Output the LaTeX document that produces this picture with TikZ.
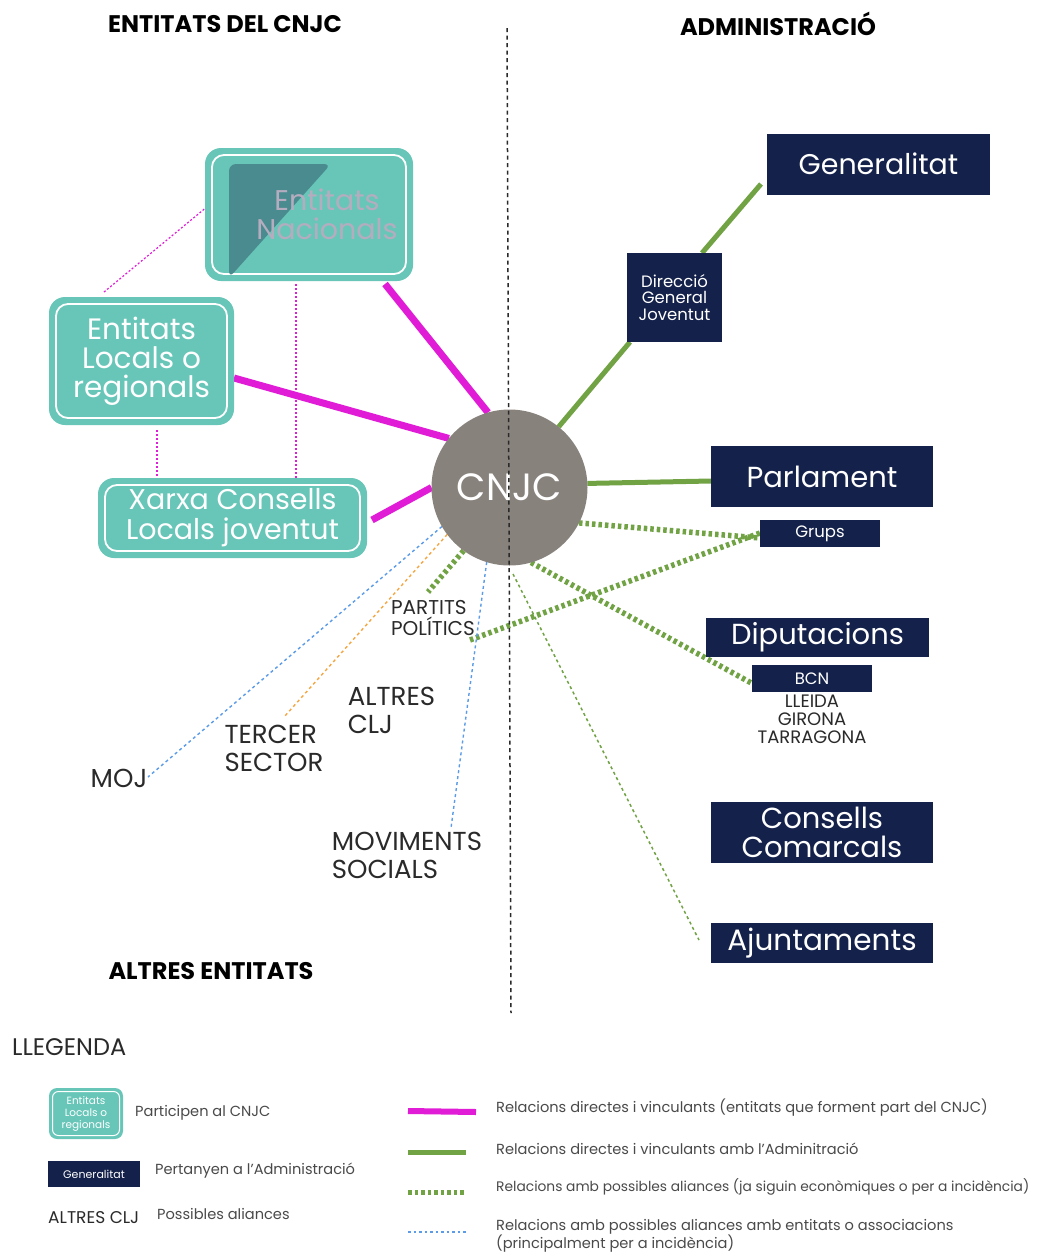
\documentclass[tikz,border=0pt]{standalone}
\usepackage{fontspec}
\setmainfont{Poppins}
\usetikzlibrary{backgrounds}
\definecolor{tealc}{HTML}{68C6B9}
\definecolor{tealdark}{HTML}{4A8B8F}
\definecolor{navy}{HTML}{14214B}
\definecolor{pinkc}{HTML}{E01CD6}
\definecolor{greenc}{HTML}{71A345}
\definecolor{bluec}{HTML}{5B9BE8}
\definecolor{orangec}{HTML}{F4A640}
\definecolor{circc}{HTML}{88827C}
\definecolor{txt}{HTML}{2A2A2A}
\definecolor{nactxt}{HTML}{B5ADBF}
\begin{document}
\begin{tikzpicture}[x=1pt,y=-1pt,
  tealbox/.style={rectangle, rounded corners=16pt, fill=tealc, text=white, inner sep=0pt, align=center,
    path picture={\draw[white,line width=1.8pt,rounded corners=12pt]
      ([shift={(7pt,-7pt)}]path picture bounding box.north west) rectangle
      ([shift={(-7pt,7pt)}]path picture bounding box.south east);}},
  smalltealbox/.style={rectangle, rounded corners=8pt, fill=tealc, text=white, inner sep=0pt, align=center,
    path picture={\draw[white,line width=1pt,rounded corners=6pt]
      ([shift={(3.5pt,-3.5pt)}]path picture bounding box.north west) rectangle
      ([shift={(-3.5pt,3.5pt)}]path picture bounding box.south east);}},
  navybox/.style={rectangle, fill=navy, text=white, inner sep=0pt, align=center},
  lbl/.style={text=txt, inner sep=0pt, align=left},
  hdr/.style={text=black, inner sep=0pt, font=\bfseries\fontsize{24}{28}\selectfont},
  pinkline/.style={pinkc, line width=7pt},
  pinkdot/.style={pinkc, line width=1.2pt, dash pattern=on 2pt off 2pt},
  greenline/.style={greenc, line width=5pt},
  greendot/.style={greenc, line width=5.5pt, dash pattern=on 3.5pt off 3pt},
  greenthin/.style={greenc, line width=1.5pt, dash pattern=on 3pt off 3pt},
  bluedot/.style={bluec, line width=1.4pt, dash pattern=on 3pt off 3pt},
  orangedot/.style={orangec, line width=1.4pt, dash pattern=on 3pt off 3pt},
  legtxt/.style={text=txt!85, inner sep=0pt, anchor=west, align=left, font=\fontsize{14.6}{18}\selectfont}
]
\useasboundingbox (0,0) rectangle (1039,1254);

% headers
\node[hdr] (h1) at (225,24) {ENTITATS DEL CNJC};
\node[hdr] (h2) at (778,24) {ADMINISTRACIÓ};
\node[hdr] (h3) at (211,971) {ALTRES ENTITATS};

% teal boxes
\node[tealbox, minimum width=208pt, minimum height=133pt] (nac) at (309,214.5) {};
\fill[tealdark, rounded corners=7pt] (229,164) -- (331,164) -- (229,278) -- cycle;
\node[text=nactxt, inner sep=0pt, align=center, font=\fontsize{28.5}{29}\selectfont] (nactext) at (327,214) {Entitats\\Nacionals};
\node[tealbox, minimum width=185pt, minimum height=128pt, font=\fontsize{29.5}{29}\selectfont] (loc) at (141.5,361) {Entitats\\Locals o\\regionals};
\node[tealbox, minimum width=269pt, minimum height=80pt, font=\fontsize{28.5}{30}\selectfont] (xarxa) at (232.5,518) {Xarxa Consells\\Locals joventut};

% CNJC
\node[circle, fill=circc, minimum size=156pt, inner sep=0pt, outer sep=0pt, text=white, font=\fontsize{38}{42}\selectfont] (cnjc) at (509.5,487.5) {CNJC};

% navy boxes
\node[navybox, minimum width=223pt, minimum height=61pt, font=\fontsize{28.5}{30}\selectfont] (gen) at (878.5,164) {Generalitat};
\node[navybox, minimum width=95pt, minimum height=89pt, font=\fontsize{16.5}{16.5}\selectfont] (dgj) at (674.5,297.5) {Direcció\\General\\Joventut};
\node[navybox, minimum width=222pt, minimum height=61pt, font=\fontsize{29}{30}\selectfont] (parl) at (822,476.5) {Parlament};
\node[navybox, minimum width=120pt, minimum height=27pt, font=\fontsize{16.5}{18}\selectfont] (grups) at (820,533.5) {Grups};
\node[navybox, minimum width=223pt, minimum height=39pt, font=\fontsize{29}{30}\selectfont] (dip) at (817.5,637.5) {Diputacions};
\node[navybox, minimum width=120pt, minimum height=27pt, font=\fontsize{16.5}{18}\selectfont] (bcn) at (812,678.5) {BCN};
\node[lbl, align=center, font=\fontsize{18}{18}\selectfont] (prov) at (812,719) {LLEIDA\\GIRONA\\TARRAGONA};
\node[navybox, minimum width=222pt, minimum height=61pt, font=\fontsize{29}{29.5}\selectfont] (cc) at (822,832.5) {Consells\\Comarcals};
\node[navybox, minimum width=222pt, minimum height=40pt, font=\fontsize{29.5}{30}\selectfont] (ajt) at (822,943) {Ajuntaments};

% other entities
\node[lbl, font=\fontsize{20}{21}\selectfont] (partits) at (433,618) {PARTITS\\POLÍTICS};
\node[lbl, font=\fontsize{26}{28}\selectfont] (altres) at (391.5,710.5) {ALTRES\\CLJ};
\node[lbl, font=\fontsize{26}{28}\selectfont] (tercer) at (274,748) {TERCER\\SECTOR};
\node[lbl, font=\fontsize{26}{28}\selectfont] (moj) at (119,778) {MOJ};
\node[lbl, font=\fontsize{26}{28}\selectfont] (mov) at (407,855) {MOVIMENTS\\SOCIALS};

% connector end coordinates
\coordinate (nacB) at (385,284);
\coordinate (locR) at (234,378);
\coordinate (xarR) at (372,520);
\coordinate (locT) at (104,292);
\coordinate (nacL) at (208,206);
\coordinate (nacB2) at (296,284);
\coordinate (xarT1) at (296,478);
\coordinate (locB) at (157,430);
\coordinate (xarT2) at (157,478);
\coordinate (dgjBL) at (630,342);
\coordinate (dgjT) at (702,253);
\coordinate (genL) at (761,184);
\coordinate (parlL) at (711,481);
\coordinate (grupsL1) at (760,538);
\coordinate (grupsL2) at (760,533);
\coordinate (bcnL) at (755,685);
\coordinate (partT) at (428,592);
\coordinate (partR) at (470,640);
\coordinate (ajtS) at (513,574);
\coordinate (ajtL) at (699,940);
\coordinate (mojR) at (148,777);
\coordinate (terT) at (284,717);
\coordinate (movT) at (451,828);

\begin{scope}[on background layer]
  \fill[white] (0,0) rectangle (1039,1254);
  \draw[pinkline] (nacB) -- (cnjc.106.8);
  \draw[pinkline] (locR) -- (cnjc.141.8);
  \draw[pinkline] (xarR) -- (cnjc.180);
  \draw[pinkdot] (locT) -- (nacL);
  \draw[pinkdot] (nacB2) -- (xarT1);
  \draw[pinkdot] (locB) -- (xarT2);
  \draw[greenline] (cnjc.51.2) -- (dgjBL);
  \draw[greenline] (dgjT) -- (genL);
  \draw[greenline] (cnjc.3) -- (parlL);
  \draw[greendot] (cnjc.-27.3) -- (grupsL1);
  \draw[greendot] (partR) -- (grupsL2);
  \draw[greendot] (cnjc.-74.2) -- (bcnL);
  \draw[greendot] (cnjc.234) -- (partT);
  \draw[greenthin] (ajtS) -- (ajtL);
  \draw[bluedot] (cnjc.210.8) -- (mojR);
  \draw[orangedot] (cnjc.217.5) -- (terT);
  \draw[bluedot] (cnjc.253.3) -- (movT);
\end{scope}

% central divider
\coordinate (divT) at (507,28);
\coordinate (divB) at (511,1013);
\draw[txt, line width=1.5pt, dash pattern=on 4pt off 3.5pt] (divT) -- (divB);

% legend
\node[lbl, anchor=west, font=\fontsize{24}{28}\selectfont] (leg) at (12,1047) {LLEGENDA};
\node[smalltealbox, minimum width=74pt, minimum height=51pt, font=\fontsize{10.5}{12}\selectfont] (legteal) at (86,1113.5) {Entitats\\Locals o\\regionals};
\node[legtxt] (legt1) at (135,1113) {Participen al CNJC};
\node[navybox, minimum width=92pt, minimum height=26pt, font=\fontsize{11}{12}\selectfont] (leggen) at (94,1174) {Generalitat};
\node[legtxt] (legt2) at (155,1171) {Pertanyen a l’Administració};
\node[lbl, anchor=west, font=\fontsize{17}{20}\selectfont] (legaltres) at (48,1218) {ALTRES CLJ};
\node[legtxt] (legt3) at (157,1214) {Possibles aliances};

\coordinate (l1a) at (408,1111); \coordinate (l1b) at (476,1112);
\coordinate (l2a) at (408,1152); \coordinate (l2b) at (466,1152);
\coordinate (l3a) at (408,1192); \coordinate (l3b) at (466,1192);
\coordinate (l4a) at (408,1232); \coordinate (l4b) at (466,1232);
\draw[pinkc, line width=6pt] (l1a) -- (l1b);
\draw[greenc, line width=5pt] (l2a) -- (l2b);
\draw[greendot, line width=5pt] (l3a) -- (l3b);
\draw[bluedot, line width=1.2pt, dash pattern=on 2.5pt off 3pt] (l4a) -- (l4b);
\node[legtxt] (lt1) at (496,1108) {Relacions directes i vinculants (entitats que forment part del CNJC)};
\node[legtxt] (lt2) at (496,1149) {Relacions directes i vinculants amb l’Adminitració};
\node[legtxt, font=\fontsize{13.8}{18}\selectfont] (lt3) at (496,1187) {Relacions amb possibles aliances (ja siguin econòmiques o per a incidència)};
\node[legtxt] (lt4) at (496,1236) {Relacions amb possibles aliances amb entitats o associacions\\(principalment per a incidència)};
\end{tikzpicture}
\end{document}
